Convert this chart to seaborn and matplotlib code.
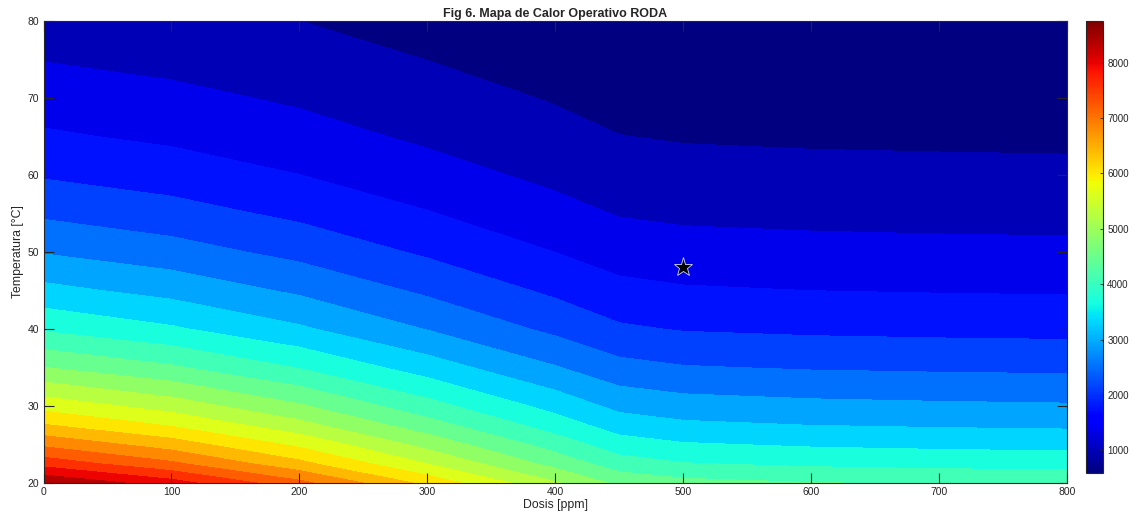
import numpy as np
import matplotlib
matplotlib.use("Agg")
import matplotlib.pyplot as plt
import seaborn as sns

# dose axis [ppm] and temperature axis [°C] of the grid
dosis = [0, 100, 200, 300, 400, 450, 500, 600, 700, 800]
temperatura = [20, 22.5, 25, 27.5, 30, 35, 40, 45, 50, 55, 60, 65, 70, 75, 80]

# heat values, one row per temperature
calor = [
    [8750, 8138, 7306, 6300, 5294, 4769, 4594, 4489, 4436, 4401],
    [7823, 7275, 6532, 5633, 4733, 4264, 4107, 4013, 3966, 3935],
    [7113, 6615, 5939, 5121, 4303, 3877, 3734, 3649, 3606, 3578],
    [6446, 5995, 5382, 4641, 3900, 3513, 3384, 3307, 3268, 3242],
    [5881, 5469, 4911, 4234, 3558, 3205, 3088, 3017, 2982, 2958],
    [4868, 4527, 4065, 3505, 2945, 2653, 2556, 2497, 2468, 2449],
    [4031, 3749, 3366, 2902, 2439, 2197, 2116, 2068, 2044, 2028],
    [3416, 3177, 2852, 2460, 2067, 1862, 1793, 1752, 1732, 1718],
    [2893, 2690, 2416, 2083, 1750, 1577, 1519, 1484, 1467, 1455],
    [2465, 2292, 2058, 1775, 1491, 1343, 1294, 1265, 1250, 1240],
    [2104, 1957, 1757, 1515, 1273, 1147, 1105, 1079, 1067, 1058],
    [1806, 1680, 1508, 1300, 1093, 984, 948, 926, 916, 908],
    [1570, 1460, 1311, 1130, 950, 856, 824, 805, 796, 790],
    [1351, 1256, 1128, 973, 817, 736, 709, 693, 685, 680],
    [1170, 1088, 977, 842, 708, 638, 614, 600, 593, 589],
]

# operating point
punto_dosis = 500
punto_temp = 48

cb_ticks = [1000, 2000, 3000, 4000, 5000, 6000, 7000, 8000]

sns.set_style("white")
plt.rcParams['font.family'] = ['Liberation Sans', 'DejaVu Sans']
plt.rcParams['axes.axisbelow'] = False  # ticks on top of the fill

Z = np.array(calor)
zmin, zmax = Z.min(), Z.max()
cmap = matplotlib.colormaps['jet']  # seaborn won't hand out jet
norm = matplotlib.colors.Normalize(vmin=zmin, vmax=zmax)

# 20 levels like matlab, each band coloured by its lower level
niveles = np.linspace(zmin, zmax, 22)
colores = [cmap(norm(v)) for v in niveles[:-1]]

fig = plt.figure(figsize=(11.36, 5.17), dpi=100)
ax = fig.add_axes([0.0383, 0.0658, 0.9010, 0.8942])
ax.contourf(dosis, temperatura, Z, levels=niveles, colors=colores)
ax.plot(punto_dosis, punto_temp, marker='*', color='k', markersize=14,
        markeredgecolor='#d0d8ff', markeredgewidth=0.6)

ax.set_xlim(0, 800)
ax.set_ylim(20, 80)
ax.set_xticks([0, 100, 200, 300, 400, 500, 600, 700, 800])
ax.set_yticks([20, 30, 40, 50, 60, 70, 80])
ax.set_axisbelow(False)
ax.tick_params(direction='in', length=7, width=0.8, labelsize=7.5,
               colors='#262626', bottom=True, left=True, top=True, right=True,
               pad=3)
for s in ax.spines.values():
    s.set_color('#262626')
    s.set_linewidth(0.8)
ax.set_xlabel('Dosis [ppm]', fontsize=8.8, color='#262626', labelpad=1)
ax.set_ylabel('Temperatura [°C]', fontsize=8.8, color='#262626', labelpad=3)
ax.set_title('Fig 6. Mapa de Calor Operativo RODA', fontsize=9,
             fontweight='bold', color='#262626', pad=3)

cax = fig.add_axes([0.956, 0.085, 0.015, 0.874])
sm = matplotlib.cm.ScalarMappable(norm=norm, cmap=cmap)
cb = fig.colorbar(sm, cax=cax, ticks=cb_ticks)
cb.ax.set_axisbelow(False)
cb.ax.tick_params(direction='in', length=2.5, width=0.6, labelsize=7,
                  colors='#262626', right=True, pad=3)
cb.outline.set_edgecolor('#262626')
cb.outline.set_linewidth(0.8)

fig.savefig('out.png', dpi=100)
